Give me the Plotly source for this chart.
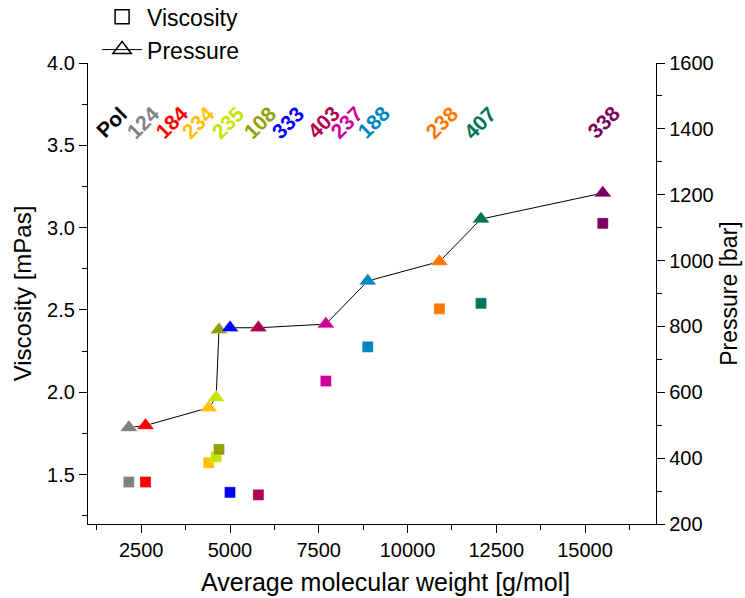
import plotly.graph_objects as go

# ---- data ----
samples = ["124", "184", "234", "235", "108", "333", "403", "237", "188", "238", "407", "338"]
mol_weight = [2150, 2620, 4400, 4610, 4690, 5000, 5800, 7700, 8880, 10900, 12070, 15500]
viscosity = [1.455, 1.455, 1.572, 1.608, 1.653, 1.392, 1.377, 2.068, 2.276, 2.507, 2.540, 3.026]
pressure = [493, 499, 553, 584, 790, 796, 796, 807, 938, 997, 1126, 1205]
colors = ["#808080", "#FF0000", "#FFC000", "#C6E400", "#8FA000", "#0000FF",
          "#AE0050", "#CC0099", "#0086BF", "#FF7700", "#00745A", "#780060"]

label_texts = ["Pol", "124", "184", "234", "235", "108", "333", "403", "237", "188", "238", "407", "338"]
label_colors = ["#000000"] + colors
label_x = [1650, 2545, 3345, 4095, 4940, 5835, 6630, 7620, 8280, 9030, 10960, 12040, 15510]
label_y = 3.64

FONT = "Arial, Liberation Sans, sans-serif"

fig = go.Figure()

fig.add_trace(go.Scatter(
    x=mol_weight, y=viscosity, mode="markers", showlegend=False,
    marker=dict(symbol="square", size=11, color=colors,
                line=dict(width=0.5, color="rgba(255,255,255,0.6)")),
))
fig.add_trace(go.Scatter(
    x=mol_weight, y=pressure, yaxis="y2", mode="lines+markers", showlegend=False,
    line=dict(color="black", width=1),
    marker=dict(symbol="triangle-up", size=15, color=colors,
                line=dict(width=0.5, color="rgba(255,255,255,0.6)")),
))
# legend entries
fig.add_trace(go.Scatter(
    x=[None], y=[None], mode="markers", name="Viscosity",
    marker=dict(symbol="square-open", size=14, color="black", line=dict(width=1.5)),
))
fig.add_trace(go.Scatter(
    x=[None], y=[None], mode="lines+markers", name="Pressure",
    line=dict(color="black", width=1),
    marker=dict(symbol="triangle-up-open", size=16, color="black", line=dict(width=1.5)),
))

for t, c, xv in zip(label_texts, label_colors, label_x):
    fig.add_annotation(x=xv, y=label_y, xref="x", yref="y", text=f"<b>{t}</b>",
                       showarrow=False, textangle=-45,
                       font=dict(family=FONT, size=21, color=c))

# x-axis title (slightly right of centre, as in the reference)
fig.add_annotation(x=0.523, y=-0.125, xref="paper", yref="paper",
                   text="Average molecular weight [g/mol]", showarrow=False,
                   xanchor="center", yanchor="middle",
                   font=dict(family=FONT, size=25, color="black"))

axis_common = dict(showline=True, linecolor="black", linewidth=1.3, showgrid=False,
                   zeroline=False, ticks="outside", ticklen=8, tickwidth=1.3,
                   tickcolor="black", tickfont=dict(family=FONT, size=20, color="black"))

fig.update_layout(
    width=745, height=598,
    margin=dict(l=88, r=89, t=63, b=74, autoexpand=False),
    plot_bgcolor="white", paper_bgcolor="white",
    font=dict(family=FONT, color="black"),
    xaxis=dict(range=[1000, 17000], tickvals=[2500, 5000, 7500, 10000, 12500, 15000],
               tickformat="d",
               minor=dict(ticks="outside", ticklen=5, tickwidth=1.3, tickcolor="black", dtick=1250, tick0=0),
               **axis_common),
    yaxis=dict(range=[1.2, 4.0], tickvals=[1.5, 2.0, 2.5, 3.0, 3.5, 4.0], tickformat=".1f",
               minor=dict(ticks="outside", ticklen=5, tickwidth=1.3, tickcolor="black", dtick=0.25, tick0=0),
               title=dict(text="Viscosity [mPas]", font=dict(family=FONT, size=24), standoff=8),
               **axis_common),
    yaxis2=dict(range=[200, 1600], tickvals=[200, 400, 600, 800, 1000, 1200, 1400, 1600],
                overlaying="y", side="right",
                minor=dict(ticks="outside", ticklen=5, tickwidth=1.3, tickcolor="black", dtick=100, tick0=0),
                title=dict(text="Pressure [bar]", font=dict(family=FONT, size=23), standoff=8),
                **axis_common),
    legend=dict(x=0.016, y=1.147, xanchor="left", yanchor="top", bgcolor="rgba(0,0,0,0)",
                font=dict(family=FONT, size=23), itemwidth=40, tracegroupgap=0),
)

fig.write_html("out.html")
